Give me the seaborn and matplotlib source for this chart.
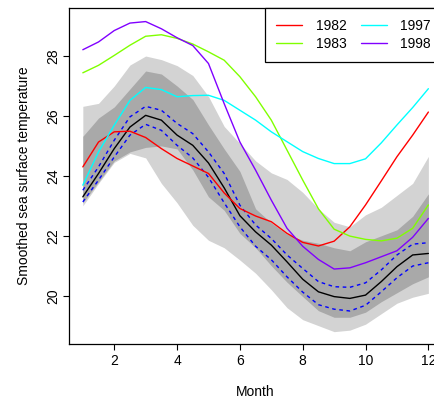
import matplotlib
matplotlib.use("Agg")
import matplotlib.pyplot as plt
import seaborn as sns

# ---- data ----
months = [1, 1.5, 2, 2.5, 3, 3.5, 4, 4.5, 5, 5.5, 6, 6.5, 7, 7.5, 8, 8.5,
          9, 9.5, 10, 10.5, 11, 11.5, 12]

median = [23.30, 24.08, 24.91, 25.63, 26.02, 25.86, 25.36, 25.02, 24.43, 23.60,
          22.67, 22.13, 21.69, 21.13, 20.55, 20.13, 19.97, 19.91, 20.02, 20.47,
          20.97, 21.36, 21.41]
ci_upper = [23.52, 24.30, 25.19, 25.97, 26.32, 26.19, 25.75, 25.41, 24.80, 24.08,
            23.02, 22.36, 21.91, 21.36, 20.91, 20.47, 20.30, 20.28, 20.43, 20.86,
            21.36, 21.72, 21.77]
ci_lower = [23.13, 23.86, 24.63, 25.36, 25.72, 25.52, 25.02, 24.60, 23.95, 23.10,
            22.30, 21.65, 21.20, 20.63, 20.12, 19.70, 19.55, 19.49, 19.68, 20.13,
            20.60, 20.99, 21.10]

outer_upper = [26.32, 26.42, 27.00, 27.70, 28.00, 27.88, 27.68, 27.35, 26.65, 25.65,
               25.08, 24.50, 24.10, 23.88, 23.45, 22.90, 22.45, 22.30, 22.70, 22.95,
               23.35, 23.75, 24.65]
inner_upper = [25.32, 25.93, 26.30, 26.90, 27.50, 27.40, 27.00, 26.55, 25.70, 24.90,
               24.15, 22.90, 22.43, 22.05, 21.85, 21.75, 21.60, 21.50, 21.80, 22.00,
               22.20, 22.65, 23.40]
inner_lower = [23.10, 23.80, 24.50, 24.80, 24.95, 25.00, 24.90, 24.20, 23.30, 22.85,
               22.08, 21.60, 21.00, 20.45, 19.97, 19.50, 19.28, 19.28, 19.45, 19.80,
               20.10, 20.40, 20.63]
outer_lower = [23.00, 23.75, 24.45, 24.75, 24.60, 23.75, 23.10, 22.35, 21.85, 21.60,
               21.19, 20.75, 20.20, 19.60, 19.20, 19.00, 18.80, 18.85, 19.05, 19.40,
               19.75, 19.95, 20.08]

y1982 = [24.30, 25.13, 25.47, 25.49, 25.28, 24.91, 24.58, 24.33, 24.08, 23.43,
         22.91, 22.66, 22.47, 22.08, 21.78, 21.66, 21.82, 22.30, 23.03, 23.83,
         24.64, 25.36, 26.13]
y1983 = [27.44, 27.69, 28.02, 28.36, 28.66, 28.71, 28.59, 28.40, 28.14, 27.86,
         27.31, 26.64, 25.86, 24.86, 23.86, 22.90, 22.22, 21.99, 21.88, 21.83,
         21.92, 22.25, 23.03]
y1997 = [23.69, 24.80, 25.69, 26.52, 26.95, 26.88, 26.64, 26.68, 26.69, 26.52,
         26.19, 25.86, 25.47, 25.14, 24.81, 24.58, 24.41, 24.41, 24.57, 25.10,
         25.70, 26.28, 26.91]
y1998 = [28.21, 28.47, 28.85, 29.10, 29.15, 28.91, 28.61, 28.35, 27.75, 26.41,
         25.13, 24.19, 23.19, 22.25, 21.65, 21.21, 20.89, 20.93, 21.10, 21.30,
         21.50, 21.95, 22.58]

outlier_years = ["1982", "1983", "1997", "1998"]
outlier_values = [y1982, y1983, y1997, y1998]
outlier_colors = ["#FF0000", "#80FF00", "#00FFFF", "#8000FF"]

# ---- style ----
sns.set_style("ticks")
plt.rcParams['font.family'] = ['Liberation Sans', 'DejaVu Sans']
for k in ['text.color', 'axes.labelcolor', 'xtick.color', 'ytick.color', 'axes.edgecolor']:
    plt.rcParams[k] = 'black'

W, H = 435, 400
fig = plt.figure(figsize=(W / 100, H / 100), dpi=100)
ax = fig.add_axes([69 / W, (H - 344.3) / H, 373.2 / W, 336.3 / H])

ax.fill_between(months, outer_lower, outer_upper, color='#D3D3D3', lw=0, zorder=1)
ax.fill_between(months, inner_lower, inner_upper, color='#A9A9A9', lw=0, zorder=2)

sns.lineplot(x=months, y=ci_upper, color='blue', linestyle=(0, (2.6, 2.6)), lw=1.0, ax=ax, zorder=3)
sns.lineplot(x=months, y=ci_lower, color='blue', linestyle=(0, (2.6, 2.6)), lw=1.0, ax=ax, zorder=3)
sns.lineplot(x=months, y=median, color='black', lw=1.0, ax=ax, zorder=4)

handles = []
for yr, vals, col in zip(outlier_years, outlier_values, outlier_colors):
    sns.lineplot(x=months, y=vals, color=col, lw=1.0, ax=ax, zorder=5)
    handles.append(ax.lines[-1])

ax.set_xlim(0.56, 12.44)
ax.set_ylim(18.378, 29.603)
ax.set_xticks([2, 4, 6, 8, 10, 12])
ax.set_yticks([20, 22, 24, 26, 28])

ax.tick_params(direction='out', length=4.1, width=0.8, labelsize=10)
ax.tick_params(axis='x', pad=3)
ax.tick_params(axis='y', pad=2, labelrotation=90)
for lab in ax.get_yticklabels():
    lab.set_va('center')

for sp in ax.spines.values():
    sp.set_linewidth(0.9)
    sp.set_color('black')

ax.set_xlabel("Month", fontsize=10)
ax.set_ylabel("Smoothed sea surface temperature", fontsize=10)
ax.xaxis.set_label_coords(0.5, -0.121)
ax.yaxis.set_label_coords(-0.102, 0.5)

leg = ax.legend(handles, outlier_years, loc='upper right', bbox_to_anchor=(1, 1),
                borderaxespad=0, ncol=2, frameon=True, fancybox=False,
                edgecolor='black', framealpha=1, fontsize=10,
                handlelength=1.86, handletextpad=1.0, columnspacing=1.0,
                borderpad=0.8, labelspacing=0.25)
leg.get_frame().set_linewidth(0.9)
leg.set_zorder(10)

fig.savefig("out.png", dpi=100)
